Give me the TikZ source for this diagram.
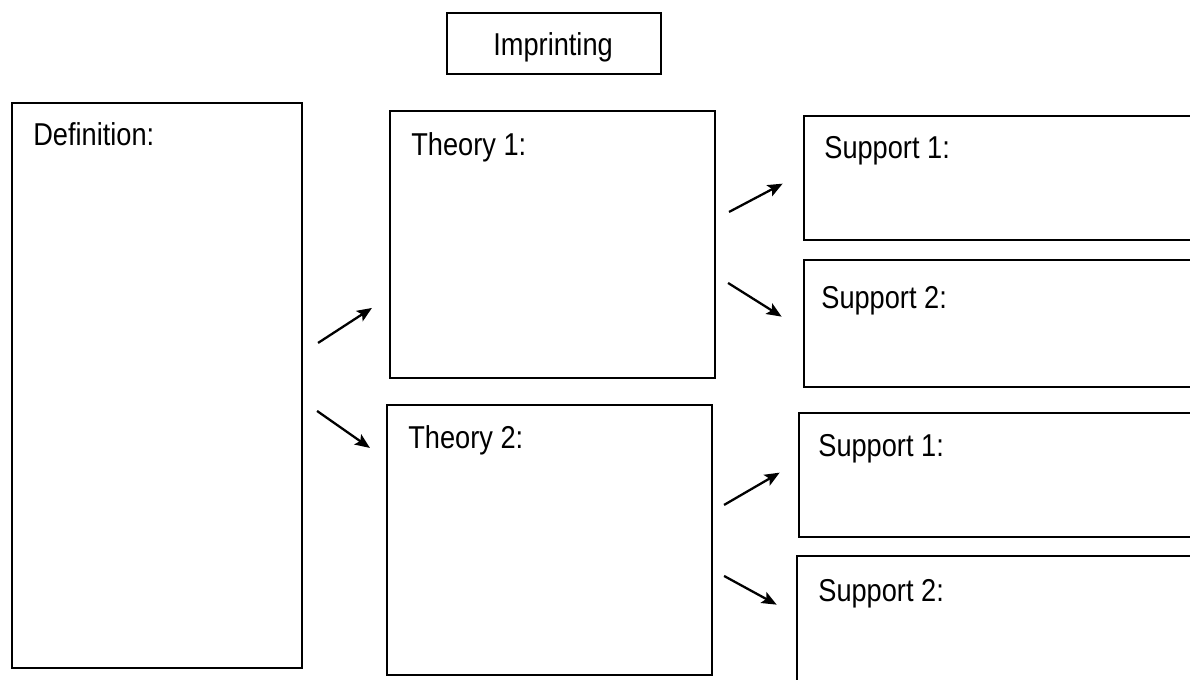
\documentclass[tikz,border=0pt]{standalone}
\usepackage{fontspec}
\setmainfont{Liberation Sans}[FakeStretch=0.86]
\usetikzlibrary{fit,arrows.meta}
\begin{document}
\begin{tikzpicture}[x=0.02cm,y=-0.02cm,
  box/.style={draw,line width=1.2pt,inner sep=0pt},
  area/.style={inner sep=0pt},
  edge3/.style={line width=1.2pt},
  lbl/.style={anchor=base west,inner sep=0pt,font=\fontsize{18}{21}\selectfont},
  arr/.style={line width=1.3pt,-{Stealth[length=8.5pt,width=7pt,inset=1.8pt]}}]
\useasboundingbox (0,0) rectangle (1190,680);

% title
\node[box,fit={(447,13)(661,74)}] (title) {};
\node[lbl] (titletxt) at (493,55) {Imprinting};

% definition column
\node[box,fit={(12,103)(302,668)}] (def) {};
\node[lbl] (deftxt) at (33,145) {Definition:};

% theories
\node[box,fit={(390,111)(715,378)}] (th1) {};
\node[lbl] (th1txt) at (411,155) {Theory 1:};
\node[box,fit={(387,405)(712,675)}] (th2) {};
\node[lbl] (th2txt) at (408,448) {Theory 2:};

% supporting evidence, open towards the right
\node[area,fit={(804,116)(1190,240)}] (s11) {};
\node[area,fit={(804,260)(1190,387)}] (s12) {};
\node[area,fit={(799,413)(1190,537)}] (s21) {};
\node[area,fit={(797,556)(1190,680)}] (s22) {};
\draw[edge3] (s11.north east) -- (s11.north west) -- (s11.south west) -- (s11.south east);
\draw[edge3] (s12.north east) -- (s12.north west) -- (s12.south west) -- (s12.south east);
\draw[edge3] (s21.north east) -- (s21.north west) -- (s21.south west) -- (s21.south east);
\draw[edge3] (s22.north east) -- (s22.north west) -- (s22.south west);
\node[lbl] (s11txt) at (824,158) {Support 1:};
\node[lbl] (s12txt) at (821,308) {Support 2:};
\node[lbl] (s21txt) at (818,456) {Support 1:};
\node[lbl] (s22txt) at (818,601) {Support 2:};

% arrows
\draw[arr] ([shift={(15,241)}]def.north east) -- ([shift={(-17,198)}]th1.north west);
\draw[arr] ([shift={(14,309)}]def.north east) -- ([shift={(-16,44)}]th2.north west);
\draw[arr] ([shift={(13,102)}]th1.north east) -- ([shift={(-21,68)}]s11.north west);
\draw[arr] ([shift={(12,173)}]th1.north east) -- ([shift={(-22,57)}]s12.north west);
\draw[arr] ([shift={(11,101)}]th2.north east) -- ([shift={(-19,60)}]s21.north west);
\draw[arr] ([shift={(11,172)}]th2.north east) -- ([shift={(-20,49)}]s22.north west);
\end{tikzpicture}
\end{document}
